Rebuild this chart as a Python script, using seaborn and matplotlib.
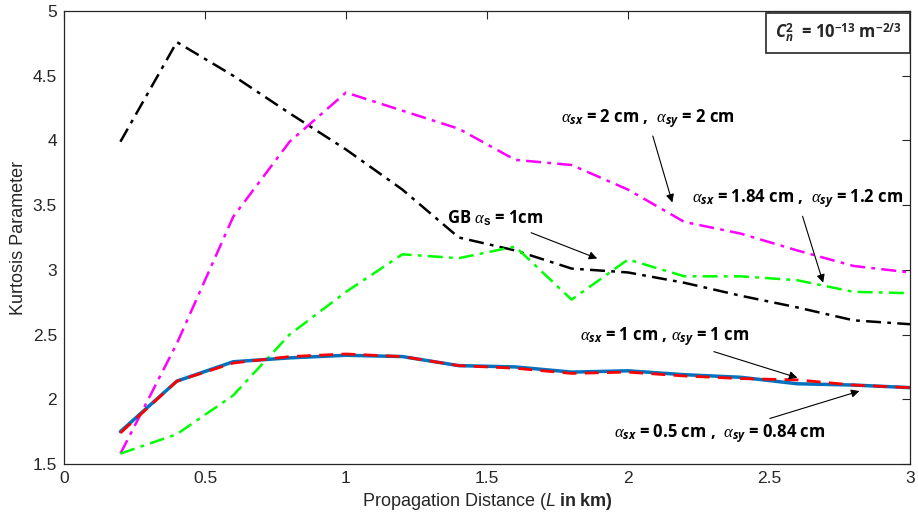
import numpy as np
import pandas as pd
import matplotlib
matplotlib.use("Agg")
import matplotlib.pyplot as plt
import seaborn as sns

# ---- data ----
distance = [0.2, 0.4, 0.6, 0.8, 1.0, 1.2, 1.4, 1.6, 1.8, 2.0, 2.2, 2.4, 2.6, 2.8, 3.0]
gb_1cm = [3.99, 4.76, 4.50, 4.21, 3.93, 3.62, 3.25, 3.15, 3.01, 2.98, 2.90, 2.80, 2.71, 2.61, 2.58]
a2_2 = [1.58, 2.43, 3.41, 3.99, 4.37, 4.23, 4.09, 3.85, 3.81, 3.62, 3.37, 3.28, 3.15, 3.03, 2.98]
a184_12 = [1.58, 1.73, 2.03, 2.50, 2.83, 3.12, 3.09, 3.18, 2.77, 3.08, 2.95, 2.95, 2.92, 2.83, 2.82]
a05_084 = [1.75, 2.14, 2.29, 2.32, 2.34, 2.33, 2.26, 2.25, 2.21, 2.22, 2.19, 2.17, 2.12, 2.11, 2.09]
a1_1 = [1.74, 2.14, 2.28, 2.33, 2.35, 2.33, 2.26, 2.24, 2.20, 2.21, 2.18, 2.16, 2.15, 2.11, 2.09]

x_ticks = [0, 0.5, 1, 1.5, 2, 2.5, 3]
x_tick_labels = ["0", "0.5", "1", "1.5", "2", "2.5", "3"]
y_ticks = [1.5, 2, 2.5, 3, 3.5, 4, 4.5, 5]
y_tick_labels = ["1.5", "2", "2.5", "3", "3.5", "4", "4.5", "5"]

sns.set_style("white")
plt.rcParams["font.family"] = ["Liberation Sans", "DejaVu Sans"]
plt.rcParams["mathtext.fontset"] = "custom"
plt.rcParams["mathtext.it"] = "Liberation Serif:italic"
plt.rcParams["mathtext.sf"] = "Open Sans:italic:bold"
plt.rcParams["mathtext.bf"] = "Open Sans:bold"
plt.rcParams["mathtext.rm"] = "Liberation Sans:bold"
plt.rcParams["mathtext.tt"] = "Liberation Sans:italic"

fig = plt.figure(figsize=(9.18, 5.24), dpi=100)
ax = fig.add_axes([64/918, 1-464/524, (910-64)/918, (464-11)/524])

series = [
    (gb_1cm, "black", (0, (6, 2.5, 1.5, 2.5)), 1.8),
    (a2_2, "#FF00FF", (0, (6, 2.5, 1.5, 2.5)), 1.8),
    (a184_12, "#00FF00", (0, (6, 2.5, 1.5, 2.5)), 1.8),
    (a05_084, "#0072BD", "-", 2.5),
    (a1_1, "#FF0000", (0, (5, 3)), 2.0),
]
for vals, color, ls, lw in series:
    df = pd.DataFrame({"x": distance, "y": vals})
    sns.lineplot(data=df, x="x", y="y", ax=ax, color=color, linestyle=ls,
                 linewidth=lw, errorbar=None, sort=False)

ax.set_xlim(0, 3)
ax.set_ylim(1.5, 5)
ax.set_xticks(x_ticks)
ax.set_xticklabels(x_tick_labels)
ax.set_yticks(y_ticks)
ax.set_yticklabels(y_tick_labels)
ax.tick_params(direction="in", top=True, right=True, length=6, width=0.8,
               labelsize=12.5, colors="#262626", pad=5)
for s in ax.spines.values():
    s.set_color("#262626")
    s.set_linewidth(0.9)

ax.set_ylabel("Kurtosis Parameter", fontsize=13, color="#262626", labelpad=4)
ax.set_xlabel("Propagation Distance (" + r"$\mathtt{L}\ \mathrm{in\ km)}$",
              fontsize=13, color="#262626", labelpad=4)

afont = dict(fontfamily="Open Sans", fontweight="bold", fontsize=12, color="black")
arrow = dict(arrowstyle="-|>", color="black", lw=0.8, mutation_scale=12)

ax.annotate(r"$\alpha_{\mathsf{sx}}$ = 2 cm ,  $\alpha_{\mathsf{sy}}$ = 2 cm",
            xy=(2.16, 3.50), xytext=(2.07, 4.08), ha="center", va="bottom",
            arrowprops=arrow, **afont)
ax.annotate(r"$\alpha_{\mathsf{sx}}$ = 1.84 cm ,  $\alpha_{\mathsf{sy}}$ = 1.2 cm",
            xy=(2.695, 2.88), xytext=(2.60, 3.46), ha="center", va="bottom",
            arrowprops=arrow, **afont)
ax.annotate(r"GB $\alpha_{\mathrm{s}}$ = 1cm",
            xy=(1.90, 3.08), xytext=(1.70, 3.32), ha="right", va="bottom",
            arrowprops=arrow, **afont)
ax.annotate(r"$\alpha_{\mathsf{sx}}$ = 1 cm , $\alpha_{\mathsf{sy}}$ = 1 cm",
            xy=(2.61, 2.16), xytext=(2.43, 2.40), ha="right", va="bottom",
            arrowprops=arrow, **afont)
ax.annotate(r"$\alpha_{\mathsf{sx}}$ = 0.5 cm ,  $\alpha_{\mathsf{sy}}$ = 0.84 cm",
            xy=(2.83, 2.07), xytext=(2.70, 1.82), ha="right", va="top",
            arrowprops=arrow, **afont)

fig.text(838/918, 1-33/524,
         r"$\mathsf{C}_{\mathsf{n}}^{\mathbf{2}}$  = 10$^{\mathbf{-13}}$ m$^{\mathbf{-2/3}}$",
         ha="center", va="center", fontfamily="Open Sans", fontweight="bold",
         fontsize=12,
         bbox=dict(boxstyle="square,pad=0.5", fc="white", ec="#262626", lw=1.2))

fig.savefig("out.png", dpi=100)
